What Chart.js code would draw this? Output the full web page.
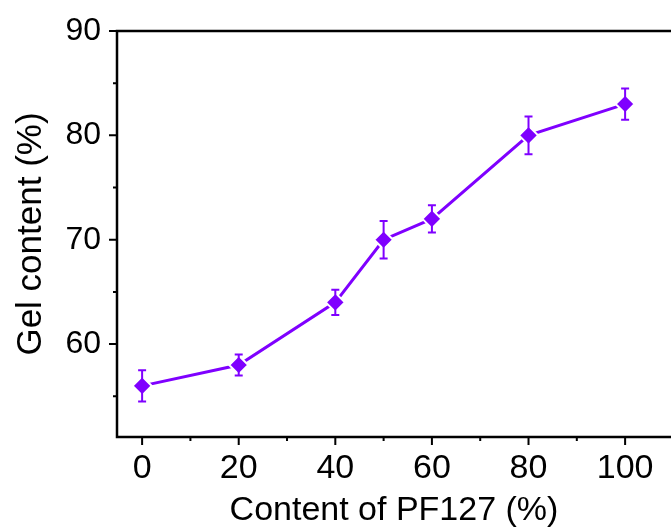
<!DOCTYPE html>
<html lang="en">
<head>
    <meta charset="UTF-8">
    <title>Gel content</title>
    <script src="https://cdn.jsdelivr.net/npm/chart.js"></script>
    <style>
        body { margin: 0; background: #fff; overflow: hidden; }
        #wrap { width: 671px; height: 531px; }
    </style>
</head>
<body>
    <div id="wrap"><canvas id="gelChart" width="671" height="531"></canvas></div>

    <script>
        // Values
        const pf127Content = [0, 20, 40, 50, 60, 80, 100];
        const gelContent = [56, 58, 64, 70, 72, 80, 83];
        const gelError = [1.5, 1.0, 1.2, 1.8, 1.3, 1.8, 1.5];

        const xMajorTicks = [0, 20, 40, 60, 80, 100];
        const xMinorTicks = [10, 30, 50, 70, 90];
        const yMajorTicks = [60, 70, 80, 90];
        const yMinorTicks = [55, 65, 75, 85];

        const purple = '#7f00ff';
        const family = '"Liberation Sans", Arial, sans-serif';

        // frame, outward ticks and error bars
        const framePlugin = {
            id: 'frame',
            afterDatasetsDraw(chart) {
                const ctx = chart.ctx;
                const x = chart.scales.x, y = chart.scales.y;
                const area = chart.chartArea;
                ctx.save();

                // error bars
                ctx.strokeStyle = purple;
                ctx.lineWidth = 2;
                pf127Content.forEach((v, i) => {
                    const px = x.getPixelForValue(v);
                    const top = y.getPixelForValue(gelContent[i] + gelError[i]);
                    const bot = y.getPixelForValue(gelContent[i] - gelError[i]);
                    ctx.beginPath();
                    ctx.moveTo(px, top); ctx.lineTo(px, bot);
                    ctx.moveTo(px - 4, top); ctx.lineTo(px + 4, top);
                    ctx.moveTo(px - 4, bot); ctx.lineTo(px + 4, bot);
                    ctx.stroke();
                });

                // axes frame
                ctx.strokeStyle = '#000';
                ctx.lineWidth = 2.5;
                ctx.beginPath();
                ctx.moveTo(area.right, area.top);
                ctx.lineTo(area.left, area.top);
                ctx.lineTo(area.left, area.bottom);
                ctx.lineTo(area.right, area.bottom);
                ctx.stroke();

                ctx.lineWidth = 2;
                ctx.beginPath();
                xMajorTicks.forEach(v => {
                    const px = x.getPixelForValue(v);
                    ctx.moveTo(px, area.bottom); ctx.lineTo(px, area.bottom + 8);
                });
                xMinorTicks.forEach(v => {
                    const px = x.getPixelForValue(v);
                    ctx.moveTo(px, area.bottom); ctx.lineTo(px, area.bottom + 4);
                });
                yMajorTicks.forEach(v => {
                    const py = y.getPixelForValue(v);
                    ctx.moveTo(area.left, py); ctx.lineTo(area.left - 8, py);
                });
                yMinorTicks.forEach(v => {
                    const py = y.getPixelForValue(v);
                    ctx.moveTo(area.left, py); ctx.lineTo(area.left - 4, py);
                });
                ctx.stroke();
                ctx.restore();
            }
        };

        const ctxGel = document.getElementById('gelChart').getContext('2d');
        new Chart(ctxGel, {
            type: 'scatter',
            data: {
                datasets: [{
                    data: pf127Content.map((v, i) => ({ x: v, y: gelContent[i] })),
                    showLine: true,
                    borderColor: purple,
                    borderWidth: 3,
                    pointStyle: 'rectRot',
                    pointRadius: 9.5,
                    pointBackgroundColor: purple,
                    pointBorderColor: '#fff',
                    pointBorderWidth: 2
                }]
            },
            options: {
                responsive: false,
                animation: false,
                layout: { autoPadding: false, padding: { top: 31, right: 0, left: 0, bottom: 0 } },
                plugins: {
                    legend: { display: false },
                    tooltip: { enabled: false }
                },
                scales: {
                    x: {
                        type: 'linear',
                        min: -5.2,
                        max: 109.5,
                        grid: { display: false, drawTicks: false },
                        border: { display: false },
                        afterBuildTicks: s => { s.ticks = xMajorTicks.map(v => ({ value: v })); },
                        afterFit: s => {
                            s.height = 94;
                            s.paddingLeft = 0;
                            s.paddingRight = 0;
                        },
                        ticks: { font: { family, size: 34 }, color: '#000', padding: 11, maxRotation: 0 },
                        title: {
                            display: true,
                            text: 'Content of PF127 (%)',
                            font: { family, size: 34 },
                            color: '#000',
                            padding: { top: 0, bottom: 0 }
                        }
                    },
                    y: {
                        min: 51.1,
                        max: 90,
                        grid: { display: false, drawTicks: false },
                        border: { display: false },
                        afterBuildTicks: s => { s.ticks = yMajorTicks.map(v => ({ value: v })); },
                        afterFit: s => {
                            s.width = 117;
                            s.paddingTop = 0;
                            s.paddingBottom = 0;
                        },
                        ticks: { font: { family, size: 32 }, color: '#000', padding: 16 },
                        title: {
                            display: true,
                            text: 'Gel content (%)',
                            font: { family, size: 35 },
                            color: '#000',
                            padding: { top: 10, bottom: 0 }
                        }
                    }
                }
            },
            plugins: [framePlugin]
        });
    </script>
</body>
</html>
